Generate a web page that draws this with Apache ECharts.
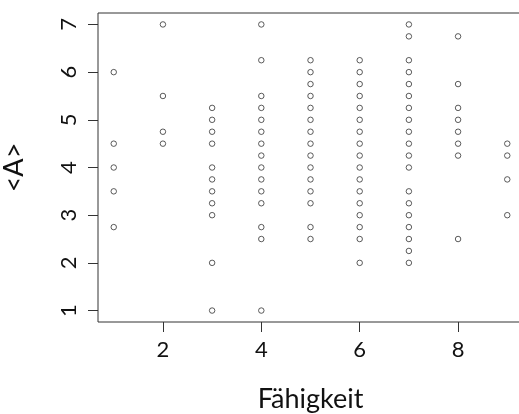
<!DOCTYPE html>
<html>
<head>
<meta charset="utf-8">
<script src="https://cdn.jsdelivr.net/npm/echarts@6/dist/echarts.min.js"></script>
<style>
  html, body { margin: 0; padding: 0; background: #fff; }
  #chart { width: 519px; height: 414px; }
</style>
</head>
<body>
<div id="chart"></div>
<script>
// Observed <A> scores for each ability level (Fähigkeit)
const scoresAbility1 = [6, 4.5, 4, 3.5, 2.75];
const scoresAbility2 = [7, 5.5, 4.75, 4.5];
const scoresAbility3 = [5.25, 5, 4.75, 4.5, 4, 3.75, 3.5, 3.25, 3, 2, 1];
const scoresAbility4 = [7, 6.25, 5.5, 5.25, 5, 4.75, 4.5, 4.25, 4, 3.75, 3.5, 3.25, 2.75, 2.5, 1];
const scoresAbility5 = [6.25, 6, 5.75, 5.5, 5.25, 5, 4.75, 4.5, 4.25, 4, 3.75, 3.5, 3.25, 2.75, 2.5];
const scoresAbility6 = [6.25, 6, 5.75, 5.5, 5.25, 5, 4.75, 4.5, 4.25, 4, 3.75, 3.5, 3.25, 3, 2.75, 2.5, 2];
const scoresAbility7 = [7, 6.75, 6.25, 6, 5.75, 5.5, 5.25, 5, 4.75, 4.5, 4.25, 4, 3.5, 3.25, 3, 2.75, 2.5, 2.25, 2];
const scoresAbility8 = [6.75, 5.75, 5.25, 5, 4.75, 4.5, 4.25, 2.5];
const scoresAbility9 = [4.5, 4.25, 3.75, 3];

const abilityLevels = [1, 2, 3, 4, 5, 6, 7, 8, 9];
const scoresByAbility = [
  scoresAbility1, scoresAbility2, scoresAbility3, scoresAbility4, scoresAbility5,
  scoresAbility6, scoresAbility7, scoresAbility8, scoresAbility9
];

const xTicks = [2, 4, 6, 8];
const yTicks = [1, 2, 3, 4, 5, 6, 7];

const points = [];
abilityLevels.forEach((lvl, i) => {
  scoresByAbility[i].forEach(v => points.push([lvl, v]));
});

const FONT = 'Lato';
const INK = '#333';

const chart = echarts.init(document.getElementById('chart'), null, { renderer: 'canvas' });
chart.setOption({
  animation: false,
  backgroundColor: '#fff',
  grid: {
    left: 98, top: 13, width: 425, height: 309,
    outerBoundsMode: 'none',
    containLabel: false,
    show: true, borderColor: INK, borderWidth: 1, backgroundColor: 'transparent'
  },
  xAxis: {
    type: 'value',
    min: 0.68, max: 9.32,
    name: 'Fähigkeit',
    nameLocation: 'middle',
    nameGap: 64,
    nameTextStyle: { fontFamily: FONT, fontSize: 27, color: '#111' },
    axisLine: { show: false },
    splitLine: { show: false },
    axisTick: { show: true, length: 10, customValues: xTicks, lineStyle: { color: INK } },
    axisLabel: { customValues: xTicks, margin: 17, fontFamily: FONT, fontSize: 22, color: '#111' }
  },
  yAxis: {
    type: 'value',
    min: 0.76, max: 7.24,
    name: '<A>',
    nameLocation: 'middle',
    nameGap: 70,
    nameRotate: 90,
    nameTextStyle: { fontFamily: FONT, fontSize: 27, color: '#111' },
    axisLine: { show: false },
    splitLine: { show: false },
    axisTick: { show: true, length: 10, customValues: yTicks, lineStyle: { color: INK } },
    axisLabel: { customValues: yTicks, rotate: 90, margin: 18, fontFamily: FONT, fontSize: 22, color: '#111' }
  },
  series: [{
    type: 'scatter',
    data: points,
    symbol: 'circle',
    symbolSize: 5.5,
    itemStyle: { color: '#fff', borderColor: INK, borderWidth: 1 },
    clip: false
  }]
});
</script>
</body>
</html>
